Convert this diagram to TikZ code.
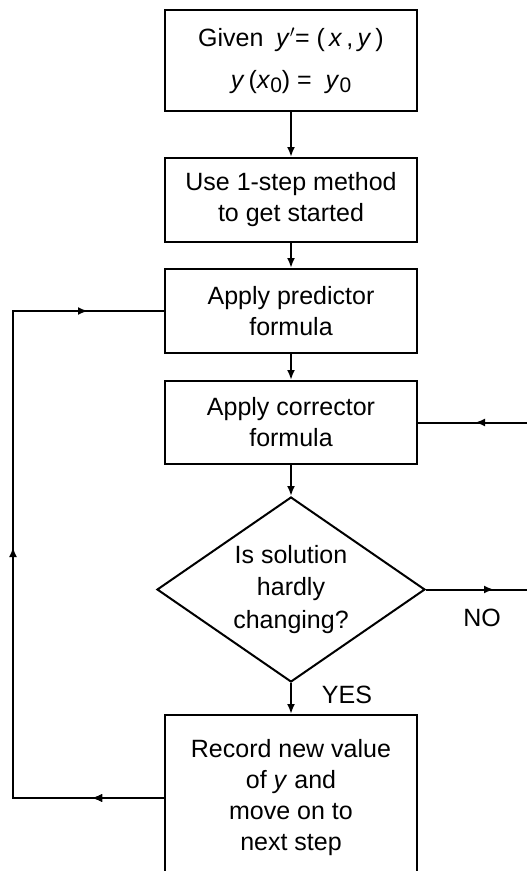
\documentclass[tikz,border=0pt]{standalone}
\usepackage{fontspec}
\setmainfont{Liberation Sans}
\usetikzlibrary{shapes.geometric,arrows.meta,decorations.markings}
\begin{document}
\begin{tikzpicture}[x=1pt,y=-1pt,
  line width=2pt,
  tip/.tip={Latex[length=10pt,width=8pt]},
  txt/.style={font=\fontsize{25}{31}\selectfont, align=center},
  box/.style={draw, txt, minimum width=252pt, inner sep=0pt},
  dec/.style={draw, txt, diamond, aspect=1.45, minimum width=268pt, minimum height=185pt, inner sep=0pt, font=\fontsize{25}{32.5}\selectfont},
  arr/.style={-tip},
  markat/.style={postaction={decorate}, decoration={markings, mark=at position #1 with {\arrow{tip}}}}
]
\useasboundingbox (0,0) rectangle (527,871);
\clip (0,0) rectangle (527,871);
\node[box, minimum height=101pt, font=\fontsize{25}{42}\selectfont] (given) at (291,60.5)
  {Given\enspace\textit{y}$'$= (\,\textit{x}\,,\,\textit{y}\,)\\\textit{y}\,(\textit{x}\raisebox{-0.35ex}{\fontsize{21}{21}\selectfont 0}) = \ \textit{y}\raisebox{-0.35ex}{\fontsize{21}{21}\selectfont 0}};
\node[box, minimum height=84pt] (start) at (291,200) {Use 1-step method\\to get started};
\node[box, minimum height=84pt] (pred) at (291,311) {Apply predictor\\formula};
\node[box, minimum height=83pt] (corr) at (291,422.5) {Apply corrector\\formula};
\node[dec] (test) at (291,589.5) {Is solution\\hardly\\changing?};
\node[box, minimum height=166pt] (rec) at (291,798) {Record new value\\of \textit{y} and\\move on to\\next step};
\node[txt] (no) at (482,618) {NO};
\node[txt] (yes) at (347,695) {YES};
\coordinate (cr) at (527,422.5);
\coordinate (nr) at (527,589.5);
\coordinate (lb) at (13,798);
\coordinate (lt) at (13,311);
\draw[arr] (given.south) -- (start.north);
\draw[arr] (start.south) -- (pred.north);
\draw[arr] (pred.south) -- (corr.north);
\draw[arr] (corr.south) -- (test.north);
\draw[arr] (test.south) -- (rec.north);
\draw[markat=52pt] (cr) -- (corr.east);
\draw[markat=68pt] (test.east) -- (nr);
\draw[markat=72pt, postaction={decorate, decoration={markings, mark=at position 402pt with {\arrow{tip}}}}, postaction={decorate, decoration={markings, mark=at position 713pt with {\arrow{tip}}}}, line join=miter]
  (rec.west) -- (lb) -- (lt) -- (pred.west);
\end{tikzpicture}
\end{document}
